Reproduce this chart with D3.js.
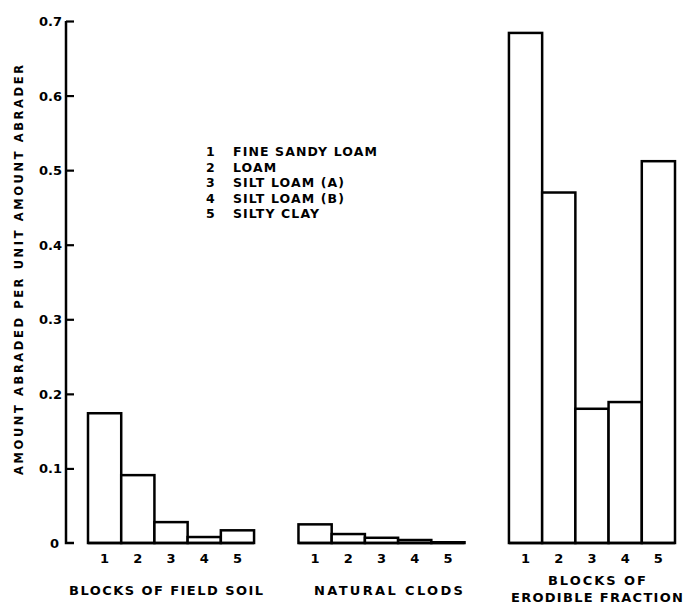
<!DOCTYPE html>
<html>
<head>
<meta charset="utf-8">
<script src="https://cdn.jsdelivr.net/npm/d3@7"></script>
<style>
  body { margin: 0; background: #fff; }
  text { font-family: "DejaVu Sans", sans-serif; font-weight: bold; fill: #000; }
</style>
</head>
<body>
<div id="chart"></div>
<script>
// values
var groups = ["field", "clods", "erodible"];
var soils = ["1", "2", "3", "4", "5"];
var fieldSoil = [0.174, 0.091, 0.028, 0.008, 0.017];
var naturalClods = [0.025, 0.012, 0.007, 0.004, 0.001];
var erodibleFraction = [0.684, 0.470, 0.180, 0.189, 0.512];
var yTicks = [0, 0.1, 0.2, 0.3, 0.4, 0.5, 0.6, 0.7];
var legendNames = ["FINE SANDY LOAM", "LOAM", "SILT LOAM (A)", "SILT LOAM (B)", "SILTY CLAY"];
var groupLabels = [["BLOCKS OF FIELD SOIL"], ["NATURAL CLODS"], ["BLOCKS OF", "ERODIBLE FRACTION"]];

var series = [fieldSoil, naturalClods, erodibleFraction];

var W = 683, H = 608;
var svg = d3.select('#chart').append('svg')
            .attr('width', W)
            .attr('height', H);

var y = d3.scaleLinear().domain([0, 0.7]).range([543, 21]);

var xGroup = d3.scaleBand().domain(groups).range([88, 675]).paddingInner(0.211).paddingOuter(0);
var xBar = d3.scaleBand().domain(soils).range([0, xGroup.bandwidth()]).padding(0);

// y axis, ticks to the right
var axis = d3.axisRight(y).tickValues(yTicks).tickSize(8).tickFormat('');
var ag = svg.append('g').attr('transform', 'translate(66,0)').call(axis);
ag.select('.domain').attr('stroke', '#000').attr('stroke-width', 2.5)
  .attr('d', 'M0,' + y(0.7) + 'V' + y(0) + 'H8');
ag.selectAll('.tick line').attr('stroke', '#000').attr('stroke-width', 2.2);
ag.selectAll('.tick').filter(function(d){ return d === 0; }).select('line').remove();

svg.append('g').selectAll('text')
   .data(yTicks)
   .enter().append('text')
   .attr('x', function(d){ return d === 0 ? 59 : 62; })
   .attr('y', function(d){ return y(d) + 5; })
   .attr('text-anchor', 'end')
   .attr('font-size', '13px')
   .text(function(d){ return d === 0 ? '0' : d3.format('.1f')(d); });

svg.append('text')
   .attr('transform', 'translate(23,270) rotate(-90)')
   .attr('text-anchor', 'middle')
   .attr('font-size', '11.5px')
   .attr('textLength', 410)
   .attr('lengthAdjust', 'spacing')
   .text('AMOUNT ABRADED PER UNIT AMOUNT ABRADER');

// label spans measured on the figure
var labelWidths = [[194], [149], [98, 172]];

// bars
groups.forEach(function(g, gi){
  var gg = svg.append('g').attr('transform', 'translate(' + xGroup(g) + ',0)');
  gg.selectAll('rect')
    .data(series[gi])
    .enter().append('rect')
    .attr('x', function(d, i){ return xBar(soils[i]); })
    .attr('y', function(d){ return y(d); })
    .attr('width', xBar.bandwidth())
    .attr('height', function(d){ return y(0) - y(d); })
    .attr('fill', '#fff')
    .attr('stroke', '#000')
    .attr('stroke-width', 2.5);

  gg.append('line')
    .attr('x1', 0).attr('x2', xGroup.bandwidth())
    .attr('y1', y(0)).attr('y2', y(0))
    .attr('stroke', '#000').attr('stroke-width', 2.5);

  gg.selectAll('.num')
    .data(soils)
    .enter().append('text')
    .attr('class', 'num')
    .attr('x', function(d){ return xBar(d) + xBar.bandwidth() / 2; })
    .attr('y', 563)
    .attr('text-anchor', 'middle')
    .attr('font-size', '13px')
    .text(function(d){ return d; });

  var lines = groupLabels[gi];
  var lx = xGroup.bandwidth() / 2 + (gi === 0 ? -5 : gi === 1 ? 7 : 5);
  lines.forEach(function(t, li){
    gg.append('text')
      .attr('x', lx)
      .attr('y', (lines.length === 1 ? 595 : 585 + li * 17))
      .attr('text-anchor', 'middle')
      .attr('font-size', '13px')
      .attr('textLength', labelWidths[gi][li])
      .attr('lengthAdjust', 'spacing')
      .text(t);
  });
});

// legend
var leg = svg.append('g').attr('transform', 'translate(206,156)');
leg.selectAll('.ln')
   .data(soils)
   .enter().append('text')
   .attr('x', 0)
   .attr('y', function(d, i){ return i * 15.6; })
   .attr('font-size', '12.5px')
   .text(function(d){ return d; });
leg.selectAll('.lt')
   .data(legendNames)
   .enter().append('text')
   .attr('x', 27)
   .attr('y', function(d, i){ return i * 15.6; })
   .attr('font-size', '12.5px')
   .attr('letter-spacing', '1.1px')
   .text(function(d){ return d; });
</script>
</body>
</html>
